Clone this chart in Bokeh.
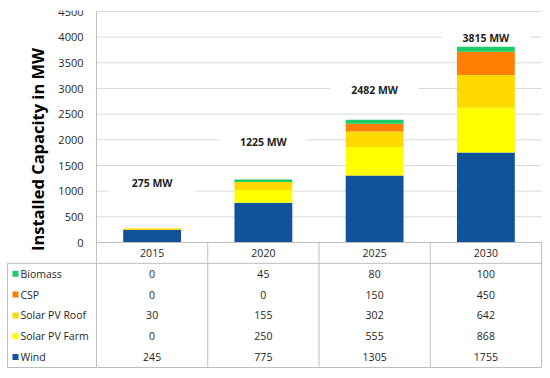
import math
from bokeh.plotting import figure
from bokeh.models import Range1d, ColumnDataSource
from bokeh.embed import file_html
from bokeh.resources import INLINE
from bokeh.core.properties import value

# ---------------- data ----------------
years = ["2015", "2020", "2025", "2030"]
series = ["Wind", "Solar PV Farm", "Solar PV Roof", "CSP", "Biomass"]
wind = [245, 775, 1305, 1755]
solar_pv_farm = [0, 250, 555, 868]
solar_pv_roof = [30, 155, 302, 642]
csp = [0, 0, 150, 450]
biomass = [0, 45, 80, 100]
total_labels = ["275 MW", "1225 MW", "2482 MW", "3815 MW"]
y_ticks = [0, 500, 1000, 1500, 2000, 2500, 3000, 3500, 4000, 4500]
y_title = "Installed Capacity in MW"

# ---------------- style ----------------
colors = {"Wind": "#10539A", "Solar PV Farm": "#FFFF00", "Solar PV Roof": "#FFDA00",
          "CSP": "#FF8000", "Biomass": "#1FCC6A"}
label_y = [1150, 1960, 2980, 3985]   # vertical placement of total labels (MW scale)
FONT = value("Open Sans")
GRID = "#D9D9D9"
LINE = "#BFBFBF"
TXT = "#1F1F1F"

# layout constants, canvas pixels
W, H = 544, 370
FX0, FX1 = 6, 543          # frame left / right
FY0, FY1 = 10, 369         # frame top / bottom
CX0, CX1 = 96, 541         # chart columns left / right
CY_TOP, CY0 = 11, 242      # pixel of y max and of y = 0
TY1 = 367                  # table bottom
TX0 = 7                    # table left border

n = len(years)
YMAX = y_ticks[-1]
sx = (CX1 - CX0) / n
sy = (CY0 - CY_TOP) / YMAX
n_rows = len(series) + 1
rpx = (TY1 - CY0) / n_rows

p = figure(width=W, height=H, output_backend="svg", toolbar_location=None,
           x_axis_location=None, y_axis_location=None,
           x_range=Range1d((FX0 - CX0) / sx, (FX1 - CX0) / sx),
           y_range=Range1d(-(FY1 - CY0) / sy, YMAX + (CY_TOP - FY0) / sy),
           min_border_left=FX0, min_border_right=W - FX1,
           min_border_top=FY0, min_border_bottom=H - FY1)
p.extra_y_ranges = {"tbl": Range1d((FY1 - CY0) / rpx, -(CY0 - FY0) / rpx)}
p.outline_line_color = None
p.grid.visible = False
p.background_fill_color = "white"

xc = [i + 0.5 for i in range(n)]

# gridlines
p.segment(x0=[0] * (len(y_ticks) - 1), x1=[n] * (len(y_ticks) - 1),
          y0=y_ticks[1:], y1=y_ticks[1:], line_color=GRID, line_width=1)

# white boxes behind total labels
p.rect(x=xc, y=label_y, width=88, height=20, width_units="screen", height_units="screen",
       fill_color="white", line_color=None)

# stacked bars
src = ColumnDataSource(dict(x=xc, **{"Wind": wind, "Solar PV Farm": solar_pv_farm,
                                     "Solar PV Roof": solar_pv_roof, "CSP": csp,
                                     "Biomass": biomass}))
p.vbar_stack(series, x="x", width=0.52, source=src,
             fill_color=[colors[s] for s in series], line_color=None)

# axis lines
p.segment(x0=[0], x1=[0], y0=[0], y1=[YMAX], line_color=LINE, line_width=1)
p.segment(x0=[0], x1=[n], y0=[0], y1=[0], line_color=LINE, line_width=1)

# tick labels
p.text(x=[0] * len(y_ticks), y=y_ticks, text=[str(t) for t in y_ticks], x_offset=-13,
       text_align="right", text_baseline="middle", text_font=FONT,
       text_font_size="11px", text_color=TXT)

# y title
p.text(x=[(37 - CX0) / sx], y=[(CY0 - 149) / sy], text=[y_title], angle=math.pi / 2,
       text_align="center", text_baseline="middle", text_font=FONT,
       text_font_size="16.5px", text_font_style="bold", text_color="#000000")

# total labels
p.text(x=xc, y=label_y, text=total_labels, text_align="center", text_baseline="middle",
       text_font=FONT, text_font_size="10.5px", text_font_style="bold", text_color=TXT)

# ---------------- table ----------------
xl = (TX0 - CX0) / sx
vx = list(range(n + 1))
p.segment(x0=vx, x1=vx, y0=[0] * len(vx), y1=[n_rows] * len(vx), line_color=LINE,
          line_width=1, y_range_name="tbl")
p.segment(x0=[xl], x1=[xl], y0=[1], y1=[n_rows], line_color=LINE, line_width=1,
          y_range_name="tbl")
p.segment(x0=[xl, xl], x1=[n, n], y0=[1, n_rows], y1=[1, n_rows], line_color=LINE,
          line_width=1, y_range_name="tbl")

# header years
p.text(x=xc, y=[0.5] * n, text=years, text_align="center", text_baseline="middle",
       text_font=FONT, text_font_size="10.5px", text_color=TXT, y_range_name="tbl")

table_order = ["Biomass", "CSP", "Solar PV Roof", "Solar PV Farm", "Wind"]
vals = {"Wind": wind, "Solar PV Farm": solar_pv_farm, "Solar PV Roof": solar_pv_roof,
        "CSP": csp, "Biomass": biomass}
tx, ty, tt = [], [], []
for r, s in enumerate(table_order):
    for c in range(n):
        tx.append(c + 0.5)
        ty.append(r + 1.5)
        tt.append(str(vals[s][c]))
p.text(x=tx, y=ty, text=tt, text_align="center", text_baseline="middle",
       text_font=FONT, text_font_size="10.5px", text_color=TXT, y_range_name="tbl")

row_y = [r + 1.5 for r in range(len(table_order))]
p.scatter(x=[(15 - CX0) / sx] * len(table_order), y=row_y, marker="square", size=6,
          fill_color=[colors[s] for s in table_order], line_color=None, y_range_name="tbl")
p.text(x=[(20 - CX0) / sx] * len(table_order), y=row_y, text=table_order,
       text_align="left", text_baseline="middle", text_font=FONT,
       text_font_size="10.5px", text_color=TXT, y_range_name="tbl")

open("out.html", "w").write(file_html(p, INLINE))
